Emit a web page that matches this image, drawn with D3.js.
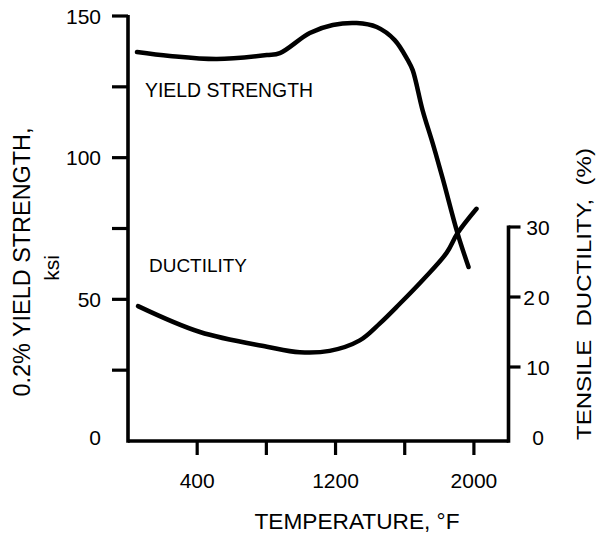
<!DOCTYPE html>
<html>
<head>
<meta charset="utf-8">
<script src="https://cdn.jsdelivr.net/npm/d3@7/dist/d3.min.js"></script>
<style>
  html, body { margin: 0; padding: 0; background: #fff; }
  svg { display: block; }
  text { font-family: "Liberation Sans", Arial, Helvetica, sans-serif; fill: #000; }
</style>
</head>
<body>
<svg id="chart" width="597" height="536"></svg>
<script>
// ---- data ----
const tempTicks = [400, 800, 1200, 1600, 2000];
const tempLabels = [400, 1200, 2000];
const ksiTicks = [0, 25, 50, 75, 100, 125, 150];
const ksiLabels = [0, 50, 100, 150];
const ductTicks = [0, 10, 20, 30];

const yieldTemp = [52, 242, 514, 803, 878, 1051, 1184, 1322, 1438, 1542, 1617, 1646, 1703, 1761, 1819, 1905, 1969];
const yieldKsi  = [137.3, 135.9, 134.8, 136.2, 136.9, 144.0, 146.8, 147.5, 146.1, 141.5, 134.5, 130.9, 116.8, 105.2, 92.8, 73.4, 61.4];

const ductTemp = [58, 416, 803, 993, 1166, 1340, 1455, 1570, 1703, 1842, 1905, 2015];
const ductPct  = [18.7, 15.0, 12.9, 12.1, 12.3, 13.8, 16.2, 19.0, 22.4, 26.3, 29.1, 32.6];

// ---- layout ----
const svg = d3.select("#chart");
const x = d3.scaleLinear().domain([0, 2200]).range([128, 508.5]);
const yL = d3.scaleLinear().domain([0, 150]).range([441, 16]);
const yR = d3.scaleLinear().domain([0, 30]).range([437, 227]);
const baseY = 441;
const axisW = 3.6;

const g = svg.append("g");

// left axis
g.append("line").attr("x1", x.range()[0]).attr("x2", x.range()[0])
  .attr("y1", yL(150) - 1).attr("y2", baseY + axisW / 2)
  .attr("stroke", "#000").attr("stroke-width", axisW);
g.selectAll(".lt").data(ksiTicks.filter(d => d > 0)).join("line")
  .attr("x1", x.range()[0] - 16).attr("x2", x.range()[0])
  .attr("y1", d => yL(d)).attr("y2", d => yL(d))
  .attr("stroke", "#000").attr("stroke-width", 3.2);
g.selectAll(".ll").data(ksiLabels).join("text")
  .attr("x", 101).attr("y", d => yL(d) - (d === 0 ? 4 : 0)).attr("dy", "0.36em")
  .attr("text-anchor", "end").attr("font-size", 21).text(d => d);

// bottom axis
g.append("line").attr("x1", x.range()[0]).attr("x2", x.range()[1])
  .attr("y1", baseY).attr("y2", baseY)
  .attr("stroke", "#000").attr("stroke-width", axisW);
g.selectAll(".bt").data(tempTicks).join("line")
  .attr("x1", d => x(d)).attr("x2", d => x(d))
  .attr("y1", baseY).attr("y2", baseY + 14)
  .attr("stroke", "#000").attr("stroke-width", 3.2);
g.selectAll(".bl").data(tempLabels).join("text")
  .attr("x", d => x(d)).attr("y", 488)
  .attr("text-anchor", "middle").attr("font-size", 21).text(d => d);

// right axis
g.append("line").attr("x1", x.range()[1]).attr("x2", x.range()[1])
  .attr("y1", yR(30) - 1.5).attr("y2", baseY + axisW / 2)
  .attr("stroke", "#000").attr("stroke-width", axisW);
g.selectAll(".rt").data(ductTicks.filter(d => d > 0)).join("line")
  .attr("x1", x.range()[1]).attr("x2", x.range()[1] + 12)
  .attr("y1", d => yR(d)).attr("y2", d => yR(d))
  .attr("stroke", "#000").attr("stroke-width", 3.2);
g.selectAll(".rl").data(ductTicks).join("text")
  .attr("x", 538).attr("y", d => yR(d)).attr("dy", "0.36em")
  .attr("text-anchor", "middle").attr("font-size", 21)
  .attr("letter-spacing", d => d === 20 ? 3 : 0).text(d => d);

// curves
const yieldData = yieldTemp.map((t, i) => [t, yieldKsi[i]]);
const ductData = ductTemp.map((t, i) => [t, ductPct[i]]);

g.append("path").datum(yieldData)
  .attr("d", d3.line().x(d => x(d[0])).y(d => yL(d[1])).curve(d3.curveCatmullRom.alpha(0.5)))
  .attr("fill", "none").attr("stroke", "#000").attr("stroke-width", 4.5)
  .attr("stroke-linecap", "round").attr("stroke-linejoin", "round");

g.append("path").datum(ductData)
  .attr("d", d3.line().x(d => x(d[0])).y(d => yR(d[1])).curve(d3.curveCatmullRom.alpha(0.5)))
  .attr("fill", "none").attr("stroke", "#000").attr("stroke-width", 4.5)
  .attr("stroke-linecap", "round").attr("stroke-linejoin", "round");

// curve labels
g.append("text").attr("x", 145).attr("y", 97).attr("font-size", 19.5)
  .attr("textLength", 168).attr("lengthAdjust", "spacingAndGlyphs").text("YIELD STRENGTH");
g.append("text").attr("x", 149).attr("y", 272).attr("font-size", 19)
  .attr("textLength", 98).attr("lengthAdjust", "spacingAndGlyphs").text("DUCTILITY");

// axis titles
g.append("text").attr("x", 357).attr("y", 529).attr("text-anchor", "middle")
  .attr("font-size", 22.5).attr("textLength", 205).attr("lengthAdjust", "spacingAndGlyphs")
  .text("TEMPERATURE, \u00B0F");

g.append("text").attr("transform", "translate(30,262) rotate(-90)")
  .attr("text-anchor", "middle").attr("font-size", 23.5)
  .attr("textLength", 269).attr("lengthAdjust", "spacingAndGlyphs")
  .text("0.2% YIELD STRENGTH,");
g.append("text").attr("transform", "translate(59,268) rotate(-90)")
  .attr("text-anchor", "middle").attr("font-size", 21).text("ksi");

g.append("text").attr("transform", "translate(591,294) rotate(-90)")
  .attr("text-anchor", "middle").attr("font-size", 20.5)
  .attr("textLength", 292).attr("lengthAdjust", "spacingAndGlyphs")
  .style("white-space", "pre")
  .text("TENSILE  DUCTILITY,  (%)");
</script>
</body>
</html>
